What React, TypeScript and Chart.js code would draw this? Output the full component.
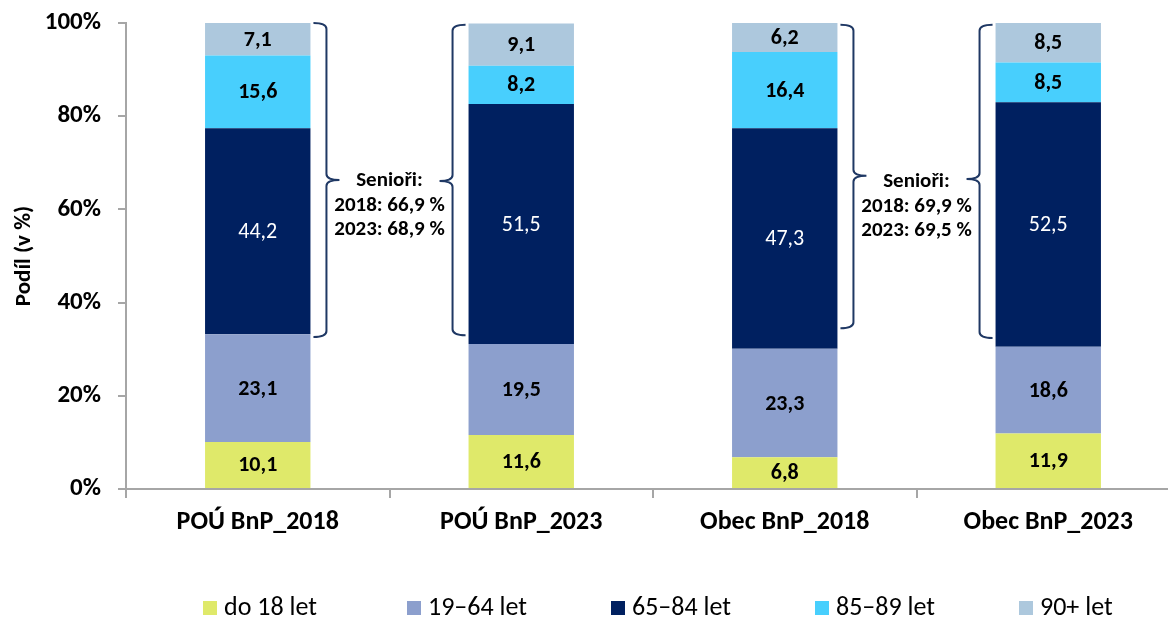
import React, { useEffect, useRef } from "react";
import { Chart, registerables } from "chart.js";

Chart.register(...registerables);

const categories = ["POÚ BnP_2018", "POÚ BnP_2023", "Obec BnP_2018", "Obec BnP_2023"];
const seriesLabels = ["do 18 let", "19–64 let", "65–84 let", "85–89 let", "90+ let"];
const seriesColors = ["#DFE96A", "#8C9FCD", "#002060", "#48CFFD", "#ADC8DD"];
const do18 = [10.1, 11.6, 6.8, 11.9];
const age19to64 = [23.1, 19.5, 23.3, 18.6];
const age65to84 = [44.2, 51.5, 47.3, 52.5];
const age85to89 = [15.6, 8.2, 16.4, 8.5];
const age90plus = [7.1, 9.1, 6.2, 8.5];
const yTicks = [0, 20, 40, 60, 80, 100];

// Annotation: "Senioři" braces (value ranges in %)
const braceBar = [0, 1, 2, 3];
const braceSide = ["right", "left", "right", "left"];
const braceTop = [100, 99.6, 99.6, 99.6];
const braceBottom = [32.6, 33.0, 34.5, 32.4];
const braceTip = [66.3, 66.1, 67.2, 66.5];
const seniorTexts = [
  ["Senioři:", "2018: 66,9 %", "2023: 68,9 %"],
  ["Senioři:", "2018: 69,9 %", "2023: 69,5 %"],
];
const seniorTextLevel = [66.1, 65.9];

const FONT = "Carlito, Calibri, Lato, sans-serif";
const fmt = (v: number) => v.toFixed(1).replace(".", ",");

const valueLabels = {
  id: "valueLabels",
  afterDatasetsDraw(chart: any) {
    const ctx = chart.ctx;
    ctx.save();
    ctx.textAlign = "center";
    ctx.textBaseline = "middle";
    chart.data.datasets.forEach((ds: any, di: number) => {
      const meta = chart.getDatasetMeta(di);
      meta.data.forEach((bar: any, i: number) => {
        const v = ds.data[i];
        const p = bar.getProps(["x", "y", "base"], true);
        const cy = (p.y + p.base) / 2;
        if (di === 2) {
          ctx.fillStyle = "#FFFFFF";
          ctx.font = `normal 22px ${FONT}`;
        } else {
          ctx.fillStyle = "#000000";
          ctx.font = `bold 22px ${FONT}`;
        }
        ctx.fillText(fmt(v), p.x, cy + 1);
      });
    });
    ctx.restore();
  },
};

const braces = {
  id: "braces",
  afterDraw(chart: any) {
    const ctx = chart.ctx;
    const y = chart.scales.y;
    ctx.save();
    ctx.strokeStyle = "#1F3864";
    ctx.lineWidth = 2;
    braceBar.forEach((bi, k) => {
      const bar = chart.getDatasetMeta(0).data[bi];
      const half = bar.width / 2;
      const dir = braceSide[k] === "right" ? 1 : -1;
      const edge = bar.x + dir * half;
      const hx = edge + dir * 3;
      const vx = edge + dir * 16;
      const tx = edge + dir * 29;
      const yt = y.getPixelForValue(braceTop[k]);
      const yb = y.getPixelForValue(braceBottom[k]);
      const ym = y.getPixelForValue(braceTip[k]);
      const r = 6;
      ctx.beginPath();
      ctx.moveTo(hx, yt);
      ctx.quadraticCurveTo(vx, yt, vx, yt + r);
      ctx.lineTo(vx, ym - r);
      ctx.quadraticCurveTo(vx, ym, tx, ym);
      ctx.moveTo(tx, ym);
      ctx.quadraticCurveTo(vx, ym, vx, ym + r);
      ctx.lineTo(vx, yb - r);
      ctx.quadraticCurveTo(vx, yb, hx, yb);
      ctx.stroke();
    });
    ctx.fillStyle = "#000000";
    ctx.textAlign = "center";
    ctx.textBaseline = "middle";
    ctx.font = `bold 21px ${FONT}`;
    seniorTexts.forEach((lines, k) => {
      const bi = k * 2;
      const x0 = chart.getDatasetMeta(0).data[bi].x;
      const x1 = chart.getDatasetMeta(0).data[bi + 1].x;
      const cx = (x0 + x1) / 2;
      const cy = y.getPixelForValue(seniorTextLevel[k]);
      lines.forEach((t, li) => ctx.fillText(t, cx, cy + li * 24.5));
    });
    ctx.restore();
  },
};

const customLegend = {
  id: "customLegend",
  afterDraw(chart: any) {
    const ctx = chart.ctx;
    ctx.save();
    ctx.font = `normal 26px ${FONT}`;
    ctx.textBaseline = "middle";
    ctx.textAlign = "left";
    const startX = 203;
    const step = 204;
    const cy = 608;
    chart.data.datasets.forEach((ds: any, i: number) => {
      const bx = startX + i * step;
      ctx.fillStyle = ds.backgroundColor;
      ctx.fillRect(bx, cy - 7, 14, 14);
      ctx.fillStyle = "#000000";
      ctx.fillText(ds.label, bx + 21, cy);
    });
    ctx.restore();
  },
};

export default function App() {
  const ref = useRef<HTMLCanvasElement>(null);
  useEffect(() => {
    if (!ref.current) return;
    const values = [do18, age19to64, age65to84, age85to89, age90plus];
    const chart = new Chart(ref.current, {
      type: "bar",
      data: {
        labels: categories,
        datasets: values.map((d, i) => ({
          label: seriesLabels[i],
          data: d,
          backgroundColor: seriesColors[i],
          borderWidth: 0,
          barPercentage: 1,
          categoryPercentage: 0.4,
        })),
      },
      options: {
        animation: false,
        responsive: true,
        maintainAspectRatio: false,
        layout: { padding: { left: 0, right: 10, top: 23, bottom: 0 } },
        plugins: {
          legend: { display: false },
          tooltip: { enabled: false },
        },
        scales: {
          x: {
            stacked: true,
            grid: { display: true, drawOnChartArea: false, drawTicks: true, tickLength: 9, color: "#A6A6A6", lineWidth: 2, offset: true },
            border: { color: "#A6A6A6", width: 2 },
            ticks: { color: "#000", font: { family: FONT, size: 26, weight: "bold" }, padding: 9, maxRotation: 0 },
            afterFit(scale: any) {
              scale.height = 130;
              scale.paddingLeft = 0;
              scale.paddingRight = 0;
            },
          },
          y: {
            stacked: true,
            min: 0,
            max: 100,
            afterBuildTicks(scale: any) { scale.ticks = yTicks.map((v) => ({ value: v })); },
            grid: { display: true, drawOnChartArea: false, drawTicks: true, tickLength: 8, color: "#A6A6A6", lineWidth: 2 },
            border: { color: "#A6A6A6", width: 2 },
            ticks: {
              color: "#000",
              font: { family: FONT, size: 25, weight: "bold" },
              padding: 17,
              callback: (v: any) => `${v}%`,
            },
            title: {
              display: true,
              text: "Podíl (v %)",
              color: "#000",
              font: { family: FONT, size: 23, weight: "bold" },
              padding: { top: 10, bottom: 0 },
            },
            afterFit(scale: any) {
              scale.width = 126;
              scale.paddingTop = 0;
              scale.paddingBottom = 0;
            },
          },
        },
      },
      plugins: [valueLabels, braces, customLegend],
    });
    return () => chart.destroy();
  }, []);
  return (
    <div style={{ position: "fixed", left: 0, top: 0, width: 1168, height: 619, overflow: "hidden", background: "#fff" }}>
      <div style={{ position: "relative", width: 1190, height: 619 }}>
        <canvas ref={ref} />
      </div>
    </div>
  );
}
